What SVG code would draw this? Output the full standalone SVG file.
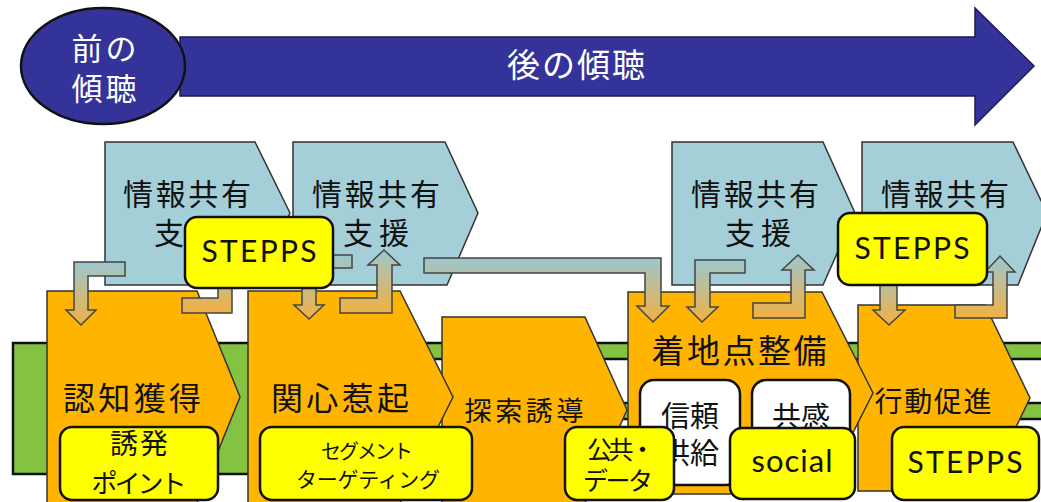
<svg xmlns="http://www.w3.org/2000/svg" width="1041" height="502" viewBox="0 0 1041 502">
<defs>
<linearGradient id="g" x1="0" y1="0" x2="0" y2="1">
<stop offset="0" stop-color="#9cc7cf"/>
<stop offset="1" stop-color="#f2b043"/>
</linearGradient>
<style>
.jp{font-family:"Noto Sans CJK JP","Noto Sans",sans-serif;fill:#111;text-anchor:middle;dominant-baseline:central}
.w{fill:#fff}
.lat{font-family:Lato,"Liberation Sans",sans-serif;fill:#111;text-anchor:middle}
.blue{fill:#a4cfd8;stroke:#333;stroke-width:1.5}
.org{fill:#ffb500;stroke:#333;stroke-width:1.5}
.grn{fill:#84c341;stroke:#111;stroke-width:2.5}
.yel{fill:#ffff00;stroke:#111;stroke-width:2.5}
.wht{fill:#fff;stroke:#111;stroke-width:2.5}
.arr{fill:url(#g);stroke:#444;stroke-width:1.5}
</style>
</defs>
<rect width="1041" height="502" fill="#fff"/>

<g id="after-listening">
<path d="M180,37 L975,37 L975,8 L1034,66 L975,125 L975,96 L180,96 Z" fill="#333399" stroke="#1c1c50" stroke-width="1.5"/>
<text class="jp w" x="576" y="63" font-size="33" textLength="138">後の傾聴</text>
</g>
<g id="before-listening">
<ellipse cx="103" cy="66" rx="82" ry="58" fill="#333399" stroke="#111" stroke-width="2.5"/>
<text class="jp w" x="104" y="46" font-size="31" textLength="65">前の</text>
<text class="jp w" x="104" y="86" font-size="31" textLength="65">傾聴</text>
</g>

<g id="green-bar">
<rect class="grn" x="13" y="343" width="410" height="131"/>
<rect class="grn" x="415" y="343" width="640" height="16"/>
<rect class="grn" x="415" y="403" width="640" height="16"/>
</g>

<g id="share1">
<path class="blue" d="M105,142 L255,142 L290,213 L255,285 L105,285 Z"/>
<text class="jp" x="187" y="192" font-size="30" textLength="128">情報共有</text>
<text class="jp" x="187" y="231" font-size="30" textLength="66">支援</text>
</g>
<g id="share2">
<path class="blue" d="M293,142 L445,142 L478,213 L447,285 L293,285 Z"/>
<text class="jp" x="376" y="192" font-size="30" textLength="128">情報共有</text>
<text class="jp" x="376" y="231" font-size="30" textLength="66">支援</text>
</g>
<g id="share3">
<path class="blue" d="M672,142 L823,142 L855,213 L823,285 L672,285 Z"/>
<text class="jp" x="755" y="192" font-size="30" textLength="128">情報共有</text>
<text class="jp" x="758" y="231" font-size="30" textLength="66">支援</text>
</g>
<g id="share4">
<path class="blue" d="M862,142 L1013,142 L1047,213 L1018,285 L862,285 Z"/>
<text class="jp" x="945" y="192" font-size="30" textLength="128">情報共有</text>
</g>

<g id="awareness">
<path class="org" d="M47,291 L197,291 L240,397 L197,503 L47,503 Z"/>
<text class="jp" x="132" y="396" font-size="32" textLength="138">認知獲得</text>
</g>
<g id="search">
<path class="org" d="M442,317 L585,317 L627,410 L585,503 L442,503 Z"/>
<text class="jp" x="524" y="409" font-size="27" textLength="119">探索誘導</text>
</g>
<g id="interest">
<path class="org" d="M248,291 L400,291 L453,397 L400,503 L248,503 Z"/>
<text class="jp" x="340" y="396" font-size="32" textLength="138">関心惹起</text>
</g>
<g id="action">
<path class="org" d="M858,305 L985,305 L1030,398 L985,491 L858,491 Z"/>
<text class="jp" x="933" y="400" font-size="28" textLength="117">行動促進</text>
</g>
<g id="landing">
<path class="org" d="M628,292 L822,292 L873,393 L822,494 L628,494 Z"/>
<text class="jp" x="739" y="349" font-size="33" textLength="175">着地点整備</text>
</g>
<g id="trust">
<rect class="wht" x="640" y="380" width="100" height="105" rx="14"/>
<text class="jp" x="690" y="414" font-size="29" textLength="58">信頼</text>
<text class="jp" x="690" y="451" font-size="29" textLength="58">供給</text>
</g>
<g id="empathy">
<rect class="wht" x="752" y="380" width="98" height="105" rx="14"/>
<text class="jp" x="801" y="415" font-size="29" textLength="58">共感</text>
</g>

<g id="connectors">
<path class="arr" d="M125,262 L74,262 L74,310 L66,310 L81,325 L96,310 L88,310 L88,276 L125,276 Z"/>
<path class="arr" d="M182,298 L218,298 L218,265 L210,265 L225,250 L240,265 L232,265 L232,313 L182,313 Z"/>
<path class="arr" d="M352,255 L302,255 L302,305 L294,305 L309,319 L324,305 L316,305 L316,268 L352,268 Z"/>
<path class="arr" d="M340,298 L377,298 L377,265 L368,265 L384,250 L400,265 L392,265 L392,313 L340,313 Z"/>
<path class="arr" d="M424,258 L661,258 L661,306 L669,306 L653,322 L637,306 L645,306 L645,273 L424,273 Z"/>
<path class="arr" d="M745,260 L695,260 L695,307 L687,307 L702,322 L718,307 L710,307 L710,273 L745,273 Z"/>
<path class="arr" d="M753,303 L791,303 L791,270 L782,270 L798,255 L814,270 L805,270 L805,318 L753,318 Z"/>
<path class="arr" d="M880,262 L880,310 L873,310 L889,325 L905,310 L897,310 L897,262 Z"/>
<path class="arr" d="M955,305 L993,305 L993,272 L985,272 L1000,256 L1015,272 L1007,272 L1007,318 L955,318 Z"/>
</g>

<g id="stepps1">
<rect class="yel" x="185" y="217" width="148" height="71" rx="12"/>
<text class="lat" x="259" y="262" font-size="30" textLength="115">STEPPS</text>
</g>
<g id="stepps2">
<rect class="yel" x="838" y="213" width="149" height="72" rx="12"/>
<text class="lat" x="912" y="259" font-size="30" textLength="115">STEPPS</text>
</g>
<g id="trigger">
<rect class="yel" x="60" y="427" width="158" height="73" rx="12"/>
<text class="jp" x="139" y="442" font-size="28" textLength="58">誘発</text>
<text class="jp" x="139" y="481" font-size="26" textLength="95">ポイント</text>
</g>
<g id="segment">
<rect class="yel" x="260" y="427" width="212" height="73" rx="12"/>
<text class="jp" x="367" y="450" font-size="20" textLength="92">セグメント</text>
<text class="jp" x="368" y="478" font-size="21" textLength="144">ターゲティング</text>
</g>
<g id="public-data">
<rect class="yel" x="565" y="427" width="109" height="73" rx="12"/>
<text class="jp" x="621" y="448" font-size="25" textLength="68">公共・</text>
<text class="jp" x="618" y="479" font-size="25" textLength="70">データ</text>
</g>
<g id="social">
<rect class="yel" x="730" y="428" width="125" height="71" rx="12"/>
<text class="lat" x="792" y="472" font-size="31" textLength="81">social</text>
</g>
<g id="stepps3">
<rect class="yel" x="892" y="427" width="147" height="73" rx="12"/>
<text class="lat" x="965" y="473" font-size="30" textLength="115">STEPPS</text>
</g>
</svg>
